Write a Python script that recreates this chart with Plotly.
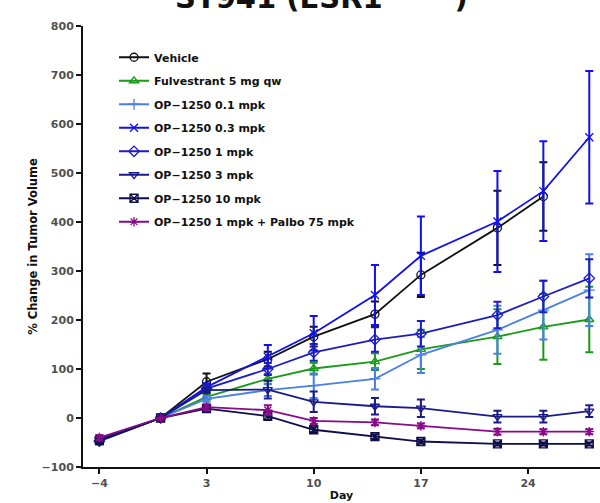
import plotly.graph_objects as go

days = [-4, 0, 3, 7, 10, 14, 17, 22, 25, 28]
vehicle_days = [-4, 0, 3, 7, 10, 14, 17, 22, 25]

series_names = ["Vehicle", "Fulvestrant 5 mg qw", "OP\u22121250 0.1 mpk", "OP\u22121250 0.3 mpk",
                "OP\u22121250 1 mpk", "OP\u22121250 3 mpk", "OP\u22121250 10 mpk",
                "OP\u22121250 1 mpk + Palbo 75 mpk"]

vehicle = [-42, 0, 74, 120, 166, 212, 292, 388, 452]
vehicle_err = [6, 0, 17, 15, 20, 26, 45, 76, 70]
fulv = [-45, 0, 43, 80, 101, 115, 140, 166, 186, 201]
fulv_err = [5, 0, 6, 10, 12, 17, 40, 56, 67, 67]
op01 = [-48, 0, 39, 57, 66, 80, 129, 180, 220, 261]
op01_err = [6, 0, 6, 12, 25, 22, 37, 49, 60, 73]
op03 = [-45, 0, 63, 125, 173, 251, 331, 401, 463, 573]
op03_err = [5, 0, 8, 24, 35, 61, 80, 103, 102, 135]
op1 = [-47, 0, 60, 100, 134, 160, 172, 210, 248, 285]
op1_err = [6, 0, 8, 12, 17, 25, 26, 27, 32, 39]
op3 = [-44, 0, 57, 58, 33, 24, 20, 3, 3, 14]
op3_err = [5, 0, 6, 18, 21, 17, 18, 12, 12, 12]
op10 = [-46, 0, 19, 4, -24, -38, -48, -53, -53, -53]
op10_err = [5, 0, 5, 8, 5, 5, 4, 3, 3, 3]
palbo = [-40, 0, 22, 16, -6, -9, -16, -28, -28, -28]
palbo_err = [5, 0, 6, 10, 6, 6, 5, 6, 5, 5]

x_ticks = [-4, 3, 10, 17, 24]
y_ticks = [-100, 0, 100, 200, 300, 400, 500, 600, 700, 800]

colors = ["#111111", "#1a9a1a", "#4a7fe8", "#1010f0", "#1c1cc4", "#1a1a8a", "#0e0e4a", "#8a0a8a"]
symbols = ["circle-open", "triangle-up-open", "cross-thin-open", "x-thin-open", "diamond-open",
           "triangle-down-open", "square-x-open", "asterisk-open"]

data = [(vehicle_days, vehicle, vehicle_err), (days, fulv, fulv_err), (days, op01, op01_err),
        (days, op03, op03_err), (days, op1, op1_err), (days, op3, op3_err),
        (days, op10, op10_err), (days, palbo, palbo_err)]

FONT = "DejaVu Sans, Verdana, sans-serif"
fig = go.Figure()
for i, (xs, ys, es) in enumerate(data):
    fig.add_trace(go.Scatter(
        x=xs, y=ys, name=series_names[i], mode="lines+markers",
        legendgroup=f"g{i}",
        line=dict(color=colors[i], width=1.8),
        marker=dict(symbol=symbols[i], size=8, color=colors[i], line=dict(width=1.3, color=colors[i])),
        error_y=dict(type="data", array=es, visible=True, color=colors[i], thickness=2, width=4),
    ))

fig.add_annotation(text="<b>ST941 (ESR1<sup>Y537S</sup>)</b>", xref="paper", yref="paper",
                   x=0.462, y=1.02, xanchor="center", yanchor="bottom", showarrow=False,
                   font=dict(family=FONT, size=29, color="#111111"))

fig.update_layout(
    width=600, height=503,
    margin=dict(l=83, r=0, t=26, b=36),
    paper_bgcolor="white", plot_bgcolor="white",
    font=dict(family=FONT),
    showlegend=True,
    legend=dict(x=0.06, y=0.962, xanchor="left", yanchor="top", bgcolor="rgba(0,0,0,0)",
                font=dict(family=FONT, size=11, color="#111111", weight="bold"),
                tracegroupgap=4.5, itemwidth=30),
)
fig.update_xaxes(range=[-5.07, 28.7], tickvals=x_ticks, ticktext=[str(v).replace("-", "\u2212") for v in x_ticks],
                 showline=True, linecolor="#111111", linewidth=2, ticks="outside", ticklen=5,
                 tickwidth=2, tickcolor="#111111", showgrid=False, zeroline=False,
                 tickfont=dict(family=FONT, size=11, color="#505050", weight="bold"),
                 title=dict(text="<b>Day</b>", font=dict(family=FONT, size=11, color="#111111"), standoff=2))
fig.update_yaxes(range=[-100, 800], tickvals=y_ticks, ticktext=[str(v).replace("-", "\u2212") for v in y_ticks],
                 showline=True, linecolor="#111111", linewidth=2, ticks="outside", ticklen=5,
                 tickwidth=2, tickcolor="#111111", showgrid=False, zeroline=False,
                 tickfont=dict(family=FONT, size=11, color="#505050", weight="bold"),
                 title=dict(text="<b>% Change in Tumor Volume</b>", font=dict(family=FONT, size=11.5, color="#111111"), standoff=2))

fig.write_html("out.html", config={"displayModeBar": False},
               post_script="document.body.style.margin='0';document.body.style.overflow='hidden';")
